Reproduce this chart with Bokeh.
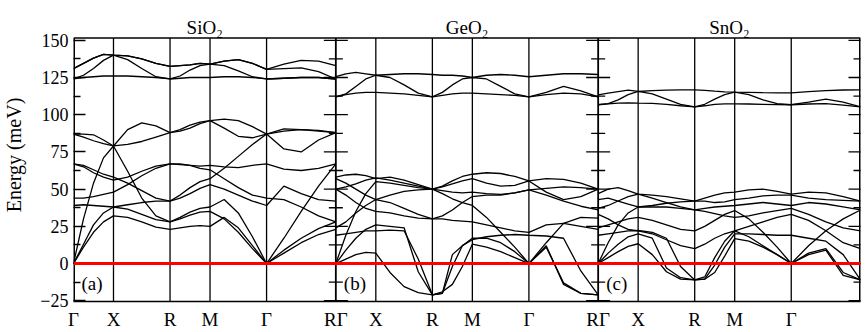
import numpy as np
from bokeh.plotting import figure
from bokeh.models import FixedTicker, Span, Label, ColumnDataSource
from bokeh.core.properties import value
from bokeh.embed import file_html
from bokeh.resources import INLINE

# High-symmetry path (simple cubic): path distances of Γ X R M Γ R
hs_pos = [0.0, 0.5, 1.2071, 1.7071, 2.4142, 3.2802]
hs_labels = ["Γ", "X", "R", "M", "Γ", "R"]
panel_titles = ["SiO₂", "GeO₂", "SnO₂"]
panel_tags = ["(a)", "(b)", "(c)"]
y_major = [-25, 0, 25, 50, 75, 100, 125, 150]
y_minor = [-12.5, 12.5, 37.5, 62.5, 87.5, 112.5, 137.5]

# Energies (meV) at 4 sub-steps per segment: Γ..X..R..M..Γ..R (21 samples)
# ---- SiO2 ----
sio2_1 = [131, 134.5, 138, 140.5, 140, 139.5, 137.5, 134.5, 132.5, 133, 133.5, 134.5, 134, 136, 137, 134.5, 130.5, 134, 136.5, 136, 133]
sio2_2 = [124, 126.5, 131, 136.5, 140, 137, 131, 125.5, 124, 126, 130, 133, 134, 133, 129.5, 125.5, 124, 124.5, 125, 125, 124]
sio2_3 = [124, 125, 125.5, 126, 126, 126, 125.5, 125, 124, 124.5, 125, 125, 125, 125.5, 125.5, 125, 124, 124.5, 125, 125, 124]
sio2_4 = [131, 134.5, 138, 140.5, 140, 139.5, 137.5, 134.5, 132.5, 133, 133.5, 134.5, 134, 136, 137, 134.5, 130.5, 131, 131.5, 129, 124]
sio2_5 = [0, 11, 21, 28, 32, 31, 28, 24.5, 23, 24, 25, 25.5, 25, 31, 24, 12, 0, 7, 14, 19.5, 23]
sio2_6 = [0, 13, 26, 34, 38, 36.5, 33, 29.5, 28, 30, 32.5, 34.5, 35, 30, 21, 10, 0, 9, 17, 23.5, 28]
sio2_7 = [0, 30, 54, 71, 79, 62, 44, 32, 28, 31, 34.5, 37, 38, 43, 34, 18, 0, 17, 35, 52, 67]
sio2_8 = [39, 39.5, 39, 38.5, 38, 39.5, 41, 42, 42, 46, 51, 55, 57, 64, 72, 80, 87, 77, 75, 83, 88]
sio2_9 = [44, 44, 45, 46.5, 48, 53, 59, 64, 67, 67, 66, 64, 63, 57, 51, 46, 44, 43, 38, 32, 28]
sio2_10 = [67, 65, 61, 58, 56, 58, 62, 65.5, 67, 66.5, 66, 65.5, 66, 65, 64.5, 66, 67, 63.5, 62.5, 64, 67]
sio2_11 = [67, 66, 63, 60, 58, 54, 49, 44, 42, 44, 47, 50.5, 53, 50, 46, 42, 39, 52, 47, 43, 42]
sio2_12 = [87, 87, 86.5, 83, 79, 90, 94.5, 92.5, 88, 90, 93, 95, 96, 97, 96, 92, 87, 90.5, 90, 89, 88]
sio2_13 = [87, 85, 82.5, 80.5, 79, 80, 82, 85, 88, 89, 91, 94, 96, 91, 85.5, 84.5, 87, 89, 90, 89.5, 88]

# ---- GeO2 ----
geo2_1 = [125.5, 127.5, 128.5, 127.5, 126.5, 127, 127.5, 127.5, 127, 126.5, 126.5, 126, 125, 126.5, 127, 126.5, 125.5, 126.5, 127.5, 127.5, 127]
geo2_2 = [112, 114, 119, 124, 126.5, 125, 120, 114.5, 112, 115, 120, 124, 125, 124, 119, 114, 112, 115, 119, 116, 112]
geo2_3 = [112, 113.5, 114.5, 115, 115, 114.5, 114, 113, 112, 113, 114, 114.5, 114.5, 114, 113.5, 113, 112, 113.5, 114.5, 114, 112]
geo2_4 = [0, 3, 6, 7.5, 7, -6, -15.5, -19.5, -21, -19, -14, -2, 13, 11, 8, 4, 0, 12, -14, -20, -21]
geo2_5 = [0, 9, 17, 23, 26, 25, 24, -5.5, -21, -20, 6, 12, 17, 17, 14, 8, 0, 11, -13, -20, -21]
geo2_6 = [19, 20, 21, 22, 22, 22.5, 22, 3, -21, -20, -2, 12, 16, 18, 19, 19.5, 19, 18.5, 17, -5, -21]
geo2_7 = [58, 59.5, 60, 59, 57, 58, 56, 53, 50, 52, 55.5, 58.5, 60, 61, 60.5, 58.5, 55.5, 57, 56.5, 54, 50]
geo2_8 = [57, 54, 50, 46, 43, 46, 48.5, 49.5, 50, 51.5, 53.5, 55.5, 57, 54, 52, 52.5, 55.5, 48, 43, 45, 50]
geo2_9 = [50, 51.5, 53.5, 56, 57.5, 56, 54, 52, 50, 49, 48, 47.5, 48, 47, 46.5, 47.5, 49.5, 50.5, 51.5, 51, 50]
geo2_10 = [50, 46, 41, 37, 35, 34, 32, 30.5, 30, 32, 36, 41, 45, 46, 46, 47.5, 49.5, 46, 42, 38.5, 36]
geo2_11 = [24, 28, 34, 39, 43, 41, 37, 33, 30, 30, 29, 28.5, 28, 26, 24, 22, 21, 26, 27, 25, 23]
geo2_12 = [0, 19, 35, 47, 55, 54, 52.5, 51, 50, 47, 43.5, 41, 39, 31, 21, 11, 0, 14, 27, 31, 30.5]

# ---- SnO2 ----
sno2_1 = [113.3, 114.5, 115.5, 116.5, 115.6, 116.2, 116.5, 116.7, 116.7, 116.3, 115.8, 115.4, 115.1, 115, 114.8, 114.7, 114.7, 115.5, 116.2, 116.6, 116.7]
sno2_2 = [106.7, 107.5, 110, 113.5, 115.6, 114, 110.5, 107, 105.3, 107, 110.5, 113.5, 115.1, 113.5, 110, 107.5, 106.7, 108.5, 110.5, 108.5, 105.3]
sno2_3 = [106.7, 107.3, 107.8, 108, 107.8, 107.6, 107, 106, 105.3, 106, 107, 107.3, 107.3, 107.2, 107, 106.8, 106.7, 107.2, 107.5, 106.5, 105.3]
sno2_4 = [0, 4, 8, 11.5, 13.3, 6, -5.5, -10.5, -11, -10.5, -6, 5, 16.7, 15, 11, 6, 0, 6, 9, -8, -11]
sno2_5 = [0, 7, 13, 18, 20, 17, -3, -9.5, -11, -10.5, -1, 11, 20, 20, 19.5, 19, 19, 17, 15, 6, -11]
sno2_6 = [19, 20, 21, 22, 22.2, 21, 17, -2, -11, -9, 4, 15, 22, 18, 12, 6, 0, 7, 10, -6, -11]
sno2_7 = [47, 50, 51, 49, 46.7, 46, 45, 43.5, 42, 44, 46, 47.5, 48, 49.5, 50, 48.5, 46.7, 48, 47.5, 45, 42]
sno2_8 = [43, 44, 42, 40, 38, 38, 38, 37, 36, 37, 38, 38.5, 39, 40, 41, 40, 39, 41, 40, 38, 36]
sno2_9 = [37, 39, 42, 45, 46.7, 44, 41, 38, 36, 35, 33.5, 32, 31, 32, 34, 35.5, 37, 33, 28, 24, 22]
sno2_10 = [24, 26, 28, 30, 31, 29, 26, 23, 22, 25, 29, 33, 35.6, 30, 21, 11, 0, 12, 22, 30, 36]
sno2_11 = [33, 30, 26, 23, 22, 20, 16, 12, 10, 13, 17, 20, 22, 25, 28, 31, 33, 29, 22, 14, 10]
sno2_12 = [0, 14, 26, 34, 38, 39, 40.5, 41.5, 42, 42, 41, 41.5, 43, 44, 45.5, 46, 46, 44, 43, 42.5, 42]

panels = [
    [sio2_1, sio2_2, sio2_3, sio2_4, sio2_5, sio2_6, sio2_7, sio2_8, sio2_9, sio2_10, sio2_11, sio2_12, sio2_13],
    [geo2_1, geo2_2, geo2_3, geo2_4, geo2_5, geo2_6, geo2_7, geo2_8, geo2_9, geo2_10, geo2_11, geo2_12],
    [sno2_1, sno2_2, sno2_3, sno2_4, sno2_5, sno2_6, sno2_7, sno2_8, sno2_9, sno2_10, sno2_11, sno2_12],
]

# k sample positions within one panel (4 sub-steps per segment)
k_local = []
for i in range(len(hs_pos) - 1):
    k_local.extend(np.linspace(hs_pos[i], hs_pos[i + 1], 5)[:-1].tolist())
k_local.append(hs_pos[-1])
k_local = np.array(k_local)
L = hs_pos[-1]

FONT = "Liberation Serif"
Y_LO, Y_BOX, Y_TOP = -25.5, 151.5, 171.35   # plot box spans Y_LO..Y_BOX; titles sit above
X_MAX = 3 * L

p = figure(width=865, height=332, x_range=(0, X_MAX), y_range=(Y_LO, Y_TOP),
           output_backend="svg", toolbar_location=None,
           min_border_left=73, min_border_right=5, min_border_top=8, min_border_bottom=29)
p.grid.visible = False
p.outline_line_color = None

# bands
xs, ys = [], []
for ip, bands in enumerate(panels):
    for b in bands:
        xs.append((k_local + ip * L).tolist())
        ys.append(b)
p.multi_line(xs="xs", ys="ys", source=ColumnDataSource(dict(xs=xs, ys=ys)),
             line_color="black", line_width=1.3)

# high-symmetry vertical lines, panel borders and x labels
tick_pos, tick_lab = [], []
thin_x, border_x = [], []
for ip in range(3):
    for j, hp in enumerate(hs_pos):
        xpos = round(hp + ip * L, 4)
        if j in (0, len(hs_pos) - 1):
            if ip > 0 and j == 0:
                continue
            border_x.append(xpos)
            lab = "R" if j == len(hs_pos) - 1 else "Γ"
            if j == len(hs_pos) - 1 and ip < 2:
                lab = "RΓ"
        else:
            thin_x.append(xpos)
            lab = hs_labels[j]
        tick_pos.append(xpos)
        tick_lab.append(lab)

p.segment(x0=thin_x, y0=[Y_LO] * len(thin_x), x1=thin_x, y1=[Y_BOX] * len(thin_x),
          line_color="black", line_width=1.3)
inner_b = [b for b in border_x if 0 < b < X_MAX - 1e-6]
outer_b = [b for b in border_x if not (0 < b < X_MAX - 1e-6)]
p.segment(x0=inner_b, y0=[Y_LO] * len(inner_b), x1=inner_b, y1=[Y_BOX] * len(inner_b),
          line_color="black", line_width=1.8)
p.segment(x0=outer_b, y0=[Y_LO] * len(outer_b), x1=outer_b, y1=[Y_BOX] * len(outer_b),
          line_color="black", line_width=3)
p.segment(x0=[0], y0=[Y_BOX], x1=[X_MAX], y1=[Y_BOX], line_color="black", line_width=1.5)

# zero line
p.add_layout(Span(location=0, dimension="width", line_color="#ff0000", line_width=3))

# inward ticks at panel borders (both sides) and right edge
bx = [round(L * i, 4) for i in (1, 2, 3)]
p.scatter(x=[b for b in bx for _ in y_major], y=[y for _ in bx for y in y_major],
          marker="dash", size=24, line_color="black", line_width=1.3)
p.scatter(x=[b for b in bx for _ in y_minor], y=[y for _ in bx for y in y_minor],
          marker="dash", size=14, line_color="black", line_width=1.3)

# panel titles above each box
p.text(x=[ip * L + L / 2 for ip in range(3)], y=[158.4] * 3, text=panel_titles,
       text_align="center", text_baseline="alphabetic", text_font=value(FONT),
       text_font_size="19px", text_color="black")

# axes
xa = p.xaxis[0]
xa.ticker = FixedTicker(ticks=tick_pos, minor_ticks=[])
xa.major_label_overrides = {tp: tl for tp, tl in zip(tick_pos, tick_lab)}
xa.major_tick_in = 0
xa.major_tick_out = 0
xa.major_label_standoff = 7
xa.major_label_text_font = FONT
xa.major_label_text_font_size = "19px"
xa.major_label_text_color = "black"
xa.axis_line_width = 1.5

ya = p.yaxis[0]
ya.ticker = FixedTicker(ticks=y_major, minor_ticks=y_minor)
ya.axis_line_color = None
ya.major_tick_in = 12
ya.major_tick_out = 0
ya.minor_tick_in = 7
ya.minor_tick_out = 0
ya.major_tick_line_width = 1.3
ya.minor_tick_line_width = 1.3
ya.major_label_standoff = 5
ya.major_label_text_font = FONT
ya.major_label_text_font_size = "18px"
ya.major_label_text_color = "black"
ya.axis_label = "Energy (meV)"
ya.axis_label_text_font = FONT
ya.axis_label_text_font_size = "20px"
ya.axis_label_text_font_style = "normal"
ya.axis_label_text_color = "black"
ya.axis_label_standoff = 12

# panel tags
for ip in range(3):
    p.add_layout(Label(x=ip * L + 0.1, y=-13.5, text=panel_tags[ip], text_align="left",
                       text_baseline="middle", text_font=FONT, text_font_size="19px",
                       text_color="black"))

open("out.html", "w").write(file_html(p, INLINE))
